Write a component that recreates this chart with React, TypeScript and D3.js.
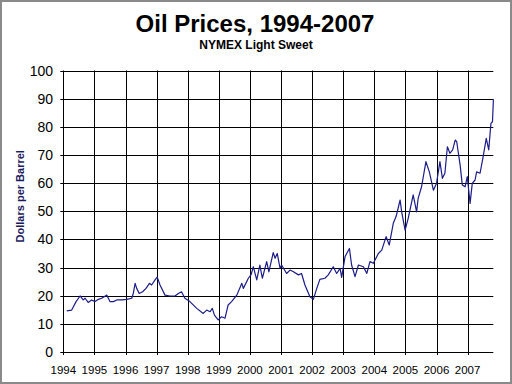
import React from "react";
import * as d3 from "d3";

// Decimal-year dates and NYMEX Light Sweet prices (USD/bbl)
const dates: number[] = [
  1994.11, 1994.27, 1994.41, 1994.54, 1994.64, 1994.70, 1994.80, 1994.91,
  1995.02, 1995.13, 1995.23, 1995.40, 1995.50, 1995.61, 1995.72, 1995.88,
  1996.04, 1996.20, 1996.25, 1996.31, 1996.36, 1996.44, 1996.55, 1996.66, 1996.77, 1996.84, 1996.95,
  1997.02, 1997.11, 1997.27, 1997.43, 1997.59, 1997.70, 1997.80, 1997.91,
  1998.07, 1998.29, 1998.50, 1998.61, 1998.72, 1998.79, 1998.86, 1998.98,
  1999.09, 1999.20, 1999.30, 1999.41, 1999.58, 1999.74, 1999.79, 1999.95,
  2000.04, 2000.11, 2000.22, 2000.32, 2000.40, 2000.54, 2000.61, 2000.75, 2000.81, 2000.88, 2000.97,
  2001.02, 2001.18, 2001.29, 2001.40, 2001.56, 2001.66, 2001.77, 2001.93,
  2002.04, 2002.15, 2002.25, 2002.41, 2002.52, 2002.68, 2002.79, 2002.90, 2002.95,
  2003.06, 2003.20, 2003.27, 2003.38, 2003.49, 2003.65, 2003.76, 2003.86, 2003.97,
  2004.13, 2004.24, 2004.38, 2004.48, 2004.61, 2004.70, 2004.83, 2004.88, 2004.99,
  2005.09, 2005.25, 2005.36, 2005.41, 2005.52, 2005.66, 2005.77, 2005.90,
  2006.00, 2006.11, 2006.19, 2006.27, 2006.35, 2006.43, 2006.52, 2006.60, 2006.65, 2006.76, 2006.83, 2006.92, 2006.99,
  2007.08, 2007.15, 2007.24, 2007.29, 2007.40, 2007.49, 2007.60, 2007.68, 2007.75, 2007.80, 2007.83,
];

const prices: number[] = [
  14.6, 14.9, 17.9, 19.9, 18.5, 19.1, 17.6, 18.5,
  17.9, 18.7, 19.1, 20.2, 17.9, 17.9, 18.5, 18.5,
  18.7, 19.1, 20.8, 24.4, 22.6, 20.8, 21.4, 22.6, 24.4, 23.8, 25.6,
  26.6, 23.8, 20.2, 19.9, 19.9, 20.8, 21.4, 19.1,
  17.9, 15.5, 13.7, 14.9, 14.3, 15.5, 13.1, 11.4,
  12.5, 12.0, 16.7, 17.9, 20.2, 24.4, 22.6, 26.2,
  27.5, 30.3, 25.6, 30.9, 26.2, 32.1, 28.5, 35.3, 33.3, 35.0, 29.7,
  30.9, 27.9, 29.1, 28.5, 27.4, 27.9, 23.8, 19.6,
  18.7, 22.6, 25.8, 26.2, 27.4, 30.3, 27.9, 29.7, 26.5,
  33.9, 36.8, 30.9, 26.8, 30.9, 30.3, 27.9, 32.1, 31.5,
  35.0, 36.2, 41.0, 38.0, 45.7, 48.1, 54.0, 49.8, 43.3,
  47.5, 55.8, 49.8, 54.6, 58.7, 67.6, 64.0, 57.5,
  59.9, 67.6, 61.7, 63.5, 72.9, 70.6, 71.8, 75.3, 74.7, 66.4, 59.3, 58.7, 62.3,
  52.8, 59.9, 61.1, 64.0, 63.5, 68.8, 75.9, 71.8, 81.2, 81.8, 89.8,
];

const yearTicks: number[] = [1994, 1995, 1996, 1997, 1998, 1999, 2000, 2001, 2002, 2003, 2004, 2005, 2006, 2007];
const priceTicks: number[] = [0, 10, 20, 30, 40, 50, 60, 70, 80, 90, 100];

const titleText = "Oil Prices, 1994-2007";
const subtitleText = "NYMEX Light Sweet";
const yLabelText = "Dollars per Barrel";

export default function App() {
  const W = 512;
  const H = 384;
  const left = 63.3;
  const right = 493.3;
  const top = 70.5;
  const bottom = 352;
  const font = "Liberation Sans, Arial, sans-serif";

  const x = d3.scaleLinear().domain([1994, 2008]).range([left, left + 31.1 * 14]);
  const y = d3.scaleLinear().domain([0, 100]).range([bottom, top]);

  const points: [number, number][] = dates.map((d, i) => [d, prices[i]]);
  const line = d3
    .line<[number, number]>()
    .x((d) => x(d[0]))
    .y((d) => y(d[1]));

  const px = (v: number) => Math.round(v) + 0.5;

  return (
    <svg
      width={W}
      height={H}
      style={{ position: "absolute", left: 0, top: 0, display: "block", background: "#fff" }}
    >
      <rect x={0} y={0} width={W} height={H} fill="#fff" />
      <rect x={1} y={1} width={W - 2} height={H - 2} fill="none" stroke="#8a8a8a" strokeWidth={2} />

      <text x={255} y={32} textAnchor="middle" fontFamily={font} fontWeight="bold" fontSize={24} fill="#000">
        {titleText}
      </text>
      <text x={256} y={49} textAnchor="middle" fontFamily={font} fontWeight="bold" fontSize={12} fill="#000">
        {subtitleText}
      </text>

      {priceTicks.map((t) => (
        <g key={"h" + t}>
          <line x1={left - 3} x2={right} y1={px(y(t))} y2={px(y(t))} stroke="#000" strokeWidth={1} />
          <text
            x={53}
            y={y(t)}
            dy="0.36em"
            textAnchor="end"
            fontFamily={font}
            fontSize={14}
            fill="#000"
          >
            {t}
          </text>
        </g>
      ))}

      {yearTicks.map((t) => (
        <g key={"v" + t}>
          <line x1={px(x(t))} x2={px(x(t))} y1={top} y2={bottom + 3} stroke="#000" strokeWidth={1} />
          <text x={x(t)} y={374} textAnchor="middle" fontFamily={font} fontSize={11.5} fill="#000">
            {t}
          </text>
        </g>
      ))}

      <text
        transform={`translate(24, ${(top + bottom) / 2 - 15}) rotate(-90)`}
        textAnchor="middle"
        fontFamily={font}
        fontWeight="bold"
        fontSize={11}
        fill="#1a1a5e"
      >
        {yLabelText}
      </text>

      <path d={line(points) || ""} fill="none" stroke="#1c1c8a" strokeWidth={1.2} strokeLinejoin="round" />
    </svg>
  );
}
